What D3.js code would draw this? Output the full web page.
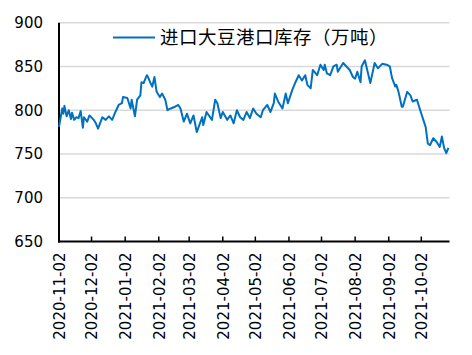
<!DOCTYPE html>
<html>
<head>
<meta charset="utf-8">
<script src="https://cdn.jsdelivr.net/npm/d3@7"></script>
<style>
  body { margin: 0; background: #fff; }
  .grid line { stroke: #d9d9d9; stroke-width: 1.5; }
  .axis text { font-family: "DejaVu Sans", sans-serif; font-size: 15px; fill: #000; }
</style>
</head>
<body>
<div id="chart"></div>
<script>
var seriesName = "进口大豆港口库存（万吨）";

// dates and stock values
var dates = [
  "2020-11-02","2020-11-05","2020-11-06","2020-11-07","2020-11-09","2020-11-11","2020-11-13","2020-11-14",
  "2020-11-16","2020-11-18","2020-11-20","2020-11-22","2020-11-24","2020-11-25","2020-11-28","2020-11-30",
  "2020-12-01","2020-12-04","2020-12-06","2020-12-08","2020-12-12","2020-12-15","2020-12-18","2020-12-21",
  "2020-12-24","2020-12-27","2020-12-30","2020-12-31","2021-01-04","2021-01-07","2021-01-08","2021-01-11",
  "2021-01-13","2021-01-16","2021-01-17","2021-01-19","2021-01-22","2021-01-23","2021-01-25","2021-01-27",
  "2021-01-29","2021-01-31","2021-02-03","2021-02-05","2021-02-08","2021-02-10","2021-02-13","2021-02-17",
  "2021-02-20","2021-02-22","2021-02-25","2021-02-28","2021-03-03","2021-03-06","2021-03-09","2021-03-14",
  "2021-03-15","2021-03-18","2021-03-23","2021-03-26","2021-03-28","2021-03-31","2021-04-02","2021-04-06",
  "2021-04-09","2021-04-12","2021-04-15","2021-04-18","2021-04-21","2021-04-24","2021-04-27","2021-04-30",
  "2021-05-03","2021-05-07","2021-05-09","2021-05-13","2021-05-16","2021-05-19","2021-05-20","2021-05-23",
  "2021-05-27","2021-05-30","2021-06-01","2021-06-05","2021-06-08","2021-06-11","2021-06-14","2021-06-17",
  "2021-06-19","2021-06-22","2021-06-24","2021-06-28","2021-07-01","2021-07-04","2021-07-05","2021-07-07",
  "2021-07-10","2021-07-13","2021-07-16","2021-07-17","2021-07-21","2021-07-22","2021-07-25","2021-07-28",
  "2021-07-31","2021-08-02","2021-08-04","2021-08-07","2021-08-08","2021-08-11","2021-08-16","2021-08-20",
  "2021-08-23","2021-08-27","2021-08-31","2021-09-03","2021-09-05","2021-09-08","2021-09-09","2021-09-11",
  "2021-09-14","2021-09-15","2021-09-19","2021-09-22","2021-09-24","2021-09-28","2021-10-01","2021-10-06",
  "2021-10-08","2021-10-10","2021-10-13","2021-10-16","2021-10-19","2021-10-21","2021-10-23","2021-10-25",
  "2021-10-27"
];
var values = [
  781, 802, 796, 805, 793, 800, 790, 797,
  789, 792, 791, 799, 780, 792, 787, 794,
  793, 789, 785, 779, 792, 789, 793, 789,
  798, 806, 808, 815, 814, 802, 812, 793,
  812, 817, 832, 831, 840, 838, 832, 827,
  838, 821, 815, 819, 812, 800, 802, 804,
  806, 802, 787, 796, 785, 794, 775, 792,
  783, 798, 789, 812, 808, 791, 798, 789,
  794, 785, 800, 792, 789, 798, 791, 802,
  796, 792, 800, 806, 798, 808, 819, 810,
  802, 819, 808, 823, 832, 840, 834, 840,
  829, 825, 846, 840, 852, 846, 852, 842,
  840, 850, 852, 844, 852, 854, 850, 846,
  838, 836, 844, 832, 850, 857, 831, 854,
  848, 853, 852, 850, 837, 827, 829, 821,
  804, 804, 821, 817, 810, 812, 800, 781,
  762, 760, 768, 764, 758, 770, 757, 751,
  757
];
var tickDates = ["2020-11-02","2020-12-02","2021-01-02","2021-02-02","2021-03-02","2021-04-02",
  "2021-05-02","2021-06-02","2021-07-02","2021-08-02","2021-09-02","2021-10-02"];
var yTicks = [650, 700, 750, 800, 850, 900];

var W = 472, H = 355;
var margin = {left: 59, right: 449.5, top: 22.7, bottom: 241.5};

var parseDate = d3.timeParse("%Y-%m-%d");
var data = dates.map(function(d, i) { return {date: parseDate(d), value: values[i]}; });

var x = d3.scaleTime()
    .domain([parseDate("2020-11-02"), parseDate("2021-10-28")])
    .range([margin.left, margin.right]);
var y = d3.scaleLinear().domain([650, 900]).range([margin.bottom, margin.top]);

var svg = d3.select("#chart").append("svg")
    .attr("width", W)
    .attr("height", H);

// gridlines
svg.append("g")
    .attr("class", "grid")
  .selectAll("line")
    .data(yTicks.slice(1))
  .enter().append("line")
    .attr("x1", margin.left)
    .attr("x2", margin.right)
    .attr("y1", function(d) { return y(d); })
    .attr("y2", function(d) { return y(d); });

// y axis labels
var yAxis = d3.axisLeft(y).tickValues(yTicks).tickSize(0).tickPadding(16);
var gy = svg.append("g")
    .attr("class", "axis")
    .attr("transform", "translate(" + margin.left + ",0)")
    .call(yAxis);
gy.select(".domain").remove();

// x axis
var xAxis = d3.axisBottom(x)
    .tickValues(tickDates.map(parseDate))
    .tickFormat(d3.timeFormat("%Y-%m-%d"))
    .tickSize(0);
var gx = svg.append("g")
    .attr("class", "axis")
    .attr("transform", "translate(0," + margin.bottom + ")")
    .call(xAxis);
gx.select(".domain").remove();
gx.selectAll("text")
    .attr("transform", "rotate(-90)")
    .attr("x", -11)
    .attr("y", 0)
    .attr("dy", "0.35em")
    .style("text-anchor", "end");

// inward tick marks on the x axis
svg.append("g")
  .selectAll("line")
    .data(tickDates.slice(1).map(parseDate))
  .enter().append("line")
    .attr("x1", function(d) { return x(d); })
    .attr("x2", function(d) { return x(d); })
    .attr("y1", margin.bottom)
    .attr("y2", margin.bottom - 5)
    .attr("stroke", "#000")
    .attr("stroke-width", 1.5);

// axis lines
svg.append("line")
    .attr("x1", margin.left).attr("x2", margin.left)
    .attr("y1", margin.top).attr("y2", margin.bottom + 1)
    .attr("stroke", "#000").attr("stroke-width", 2);
svg.append("line")
    .attr("x1", margin.left - 1).attr("x2", margin.right)
    .attr("y1", margin.bottom).attr("y2", margin.bottom)
    .attr("stroke", "#000").attr("stroke-width", 2);

var line = d3.line()
    .x(function(d) { return x(d.date); })
    .y(function(d) { return y(d.value); });

svg.append("path")
    .datum(data)
    .attr("fill", "none")
    .attr("stroke", "#0070c0")
    .attr("stroke-width", 2)
    .attr("stroke-linejoin", "round")
    .attr("d", line);

// legend
var legend = svg.append("g").attr("transform", "translate(113,37.5)");
legend.append("line")
    .attr("x1", 0).attr("x2", 42)
    .attr("stroke", "#0070c0").attr("stroke-width", 2);
legend.append("text")
    .attr("x", 47)
    .attr("dy", "0.36em")
    .style("font-family", "'Noto Sans CJK SC', sans-serif")
    .style("font-size", "18.5px")
    .style("letter-spacing", "0.5px")
    .text(seriesName);
</script>
</body>
</html>
